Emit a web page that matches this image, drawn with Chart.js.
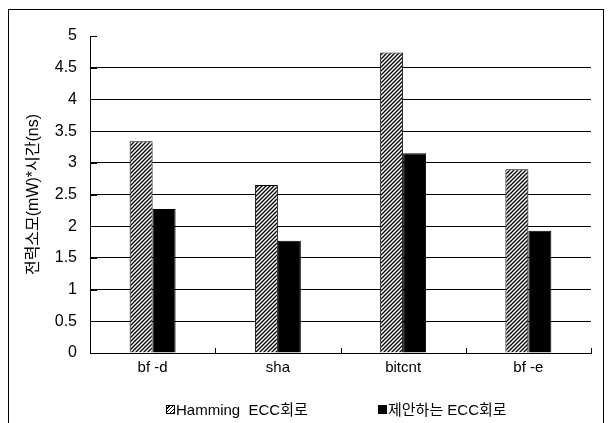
<!DOCTYPE html>
<html>
<head>
<meta charset="utf-8">
<script src="https://cdn.jsdelivr.net/npm/chart.js@4"></script>
<style>
  html, body { margin: 0; padding: 0; background: #fff; }
  #wrap { position: relative; width: 613px; height: 423px; overflow: hidden; }
  #frame {
    position: absolute; left: 8px; top: 9px; width: 596px; height: 430px;
    border: 1px solid #000; box-sizing: border-box; pointer-events: none;
  }
  #legend {
    position: absolute; top: 401px; left: 0; width: 613px; height: 18px;
    font: 15px "Liberation Sans", Arial, "Noto Sans CJK KR", sans-serif; color: #000;
  }
  #legend .item { position: absolute; top: 0; white-space: pre; line-height: 18px; }
  #legend .box {
    display: inline-block; width: 9px; height: 9px; box-sizing: border-box;
    border: 1px solid #000; margin-right: 1px; vertical-align: 1px;
  }
  #legend .hatch {
    background: repeating-linear-gradient(-45deg, #000 0 1px, #fff 1px 2.5px);
  }
  #legend .solid { background: #000; }
</style>
</head>
<body>
<div id="wrap">
  <canvas id="chart" width="613" height="423"></canvas>
  <div id="frame"></div>
  <div id="legend"></div>
</div>
<script>
const categories = ["bf -d", "sha", "bitcnt", "bf -e"];
const hammingValues = [3.34, 2.65, 4.74, 2.9];
const proposedValues = [2.27, 1.77, 3.15, 1.93];
const seriesNames = ["Hamming  ECC회로", "제안하는 ECC회로"];
const yTitle = "전력소모(mW)*시간(ns)";

const FONT = '"Liberation Sans", Arial, "Noto Sans CJK KR", sans-serif';

// diagonal hatch fill for the Hamming bars
function makeHatch() {
  const c = document.createElement("canvas");
  c.width = 4;
  c.height = 4;
  const g = c.getContext("2d");
  g.fillStyle = "#fff";
  g.fillRect(0, 0, 4, 4);
  g.strokeStyle = "#000";
  g.lineWidth = 1.3;
  g.beginPath();
  g.moveTo(-1, 5); g.lineTo(5, -1);
  g.moveTo(-1, 1); g.lineTo(1, -1);
  g.moveTo(3, 5); g.lineTo(5, 3);
  g.stroke();
  return g.createPattern(c, "repeat");
}

// short inward tick marks on both axes
const innerTicks = {
  id: "innerTicks",
  afterDraw(chart) {
    const ctx = chart.ctx;
    const x = chart.scales.x;
    const y = chart.scales.y;
    const half = (x.getPixelForTick(1) - x.getPixelForTick(0)) / 2;
    ctx.save();
    ctx.strokeStyle = "#000";
    ctx.lineWidth = 1;
    ctx.beginPath();
    for (let i = 0; i <= categories.length; i++) {
      const px = Math.round(x.getPixelForTick(0) - half + i * half * 2) + 0.5;
      ctx.moveTo(px, y.bottom);
      ctx.lineTo(px, y.bottom - 5);
    }
    y.ticks.forEach((t) => {
      const py = Math.round(y.getPixelForValue(t.value)) + 0.5;
      ctx.moveTo(x.left, py);
      ctx.lineTo(x.left + 7, py);
    });
    ctx.stroke();
    ctx.restore();
  },
};

new Chart(document.getElementById("chart"), {
  type: "bar",
  data: {
    labels: categories,
    datasets: [
      {
        label: seriesNames[0],
        data: hammingValues,
        backgroundColor: makeHatch(),
        borderColor: "#000",
        borderWidth: 1,
      },
      {
        label: seriesNames[1],
        data: proposedValues,
        backgroundColor: "#000",
        borderColor: "#000",
        borderWidth: 1,
      },
    ],
  },
  options: {
    responsive: false,
    animation: false,
    categoryPercentage: 0.367,
    barPercentage: 1,
    layout: { padding: { left: 20, top: 36, right: 22, bottom: 0 } },
    plugins: {
      legend: { display: false },
      tooltip: { enabled: false },
    },
    scales: {
      x: {
        afterFit: (s) => { s.height = 70; },
        grid: { display: false, drawTicks: false },
        border: { display: true, color: "#000", width: 1 },
        ticks: { color: "#000", padding: 6, font: { family: FONT, size: 15 } },
      },
      y: {
        min: 0,
        max: 5,
        afterFit: (s) => { s.width = 70; },
        ticks: {
          stepSize: 0.5,
          color: "#000",
          padding: 13,
          font: { family: FONT, size: 16 },
          callback: (v) => String(v),
        },
        grid: {
          drawTicks: false,
          color: (c) => (c.tick && c.tick.value >= 5 ? "rgba(0,0,0,0)" : "#000"),
          lineWidth: 1,
        },
        border: { display: true, color: "#000", width: 1 },
        title: {
          display: true,
          text: yTitle,
          color: "#000",
          padding: { top: 4, bottom: 4 },
          font: { family: FONT, size: 16 },
        },
      },
    },
  },
  plugins: [innerTicks],
});

// legend row under the axis
const legend = document.getElementById("legend");
const legendX = [166, 378];
seriesNames.forEach((name, i) => {
  const item = document.createElement("span");
  item.className = "item";
  item.style.left = legendX[i] + "px";
  const box = document.createElement("span");
  box.className = "box " + (i === 0 ? "hatch" : "solid");
  item.appendChild(box);
  item.appendChild(document.createTextNode(name));
  legend.appendChild(item);
});
</script>
</body>
</html>
